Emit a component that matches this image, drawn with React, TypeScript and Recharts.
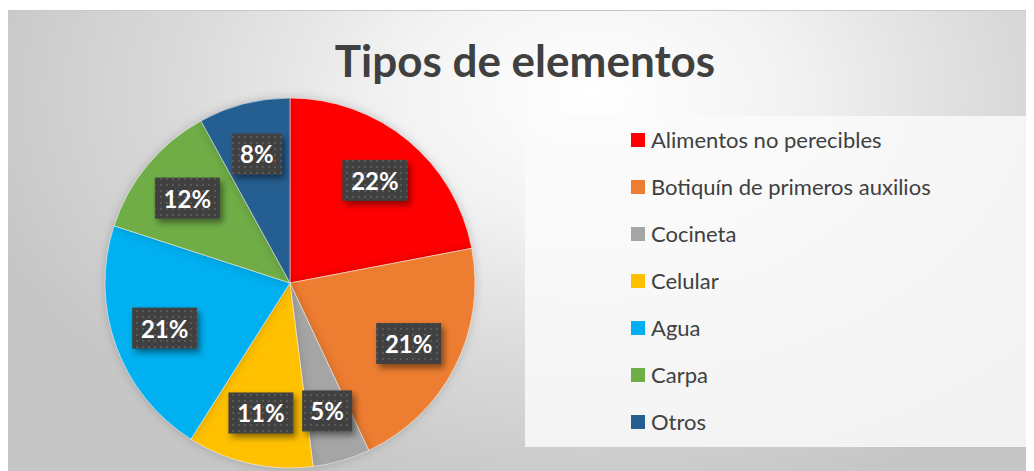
import React from 'react';
import { PieChart, Pie, Cell, Legend } from 'recharts';

const categories = [
  'Alimentos no perecibles',
  'Botiquín de primeros auxilios',
  'Cocineta',
  'Celular',
  'Agua',
  'Carpa',
  'Otros',
];
const values = [22, 21, 5, 11, 21, 12, 8];
const colors = ['#FF0000', '#ED7D31', '#A5A5A5', '#FFC000', '#00B0F0', '#70AD47', '#255E91'];

const data = categories.map((name, i) => ({ name, value: values[i] }));

const RAD = Math.PI / 180;

const renderLabel = (props: any) => {
  const { cx, cy, midAngle, outerRadius, percent } = props;
  const r = outerRadius * 0.72;
  const x = cx + r * Math.cos(-midAngle * RAD);
  const y = cy + r * Math.sin(-midAngle * RAD);
  const text = `${Math.round(percent * 100)}%`;
  const w = text.length * 15 + 20;
  const h = 41;
  return (
    <g>
      <rect x={x - w / 2} y={y - h / 2} width={w} height={h} fill="#404040" filter="url(#lblShadow)" />
      <rect x={x - w / 2} y={y - h / 2} width={w} height={h} fill="url(#dots)" />
      <text
        x={x}
        y={y}
        textAnchor="middle"
        dominantBaseline="central"
        fill="#ffffff"
        fontFamily="Lato, sans-serif"
        fontWeight={700}
        fontSize={24}
      >
        {text}
      </text>
    </g>
  );
};

const renderLegend = (props: any) => {
  const payload = [...(props.payload || [])].sort(
    (a: any, b: any) => categories.indexOf(a.value) - categories.indexOf(b.value)
  );
  return (
    <ul style={{ listStyle: 'none', margin: 0, padding: 0 }}>
      {payload.map((entry: any, i: number) => (
        <li
          key={i}
          style={{ height: 47, display: 'flex', alignItems: 'center', paddingLeft: 106 }}
        >
          <span
            style={{ width: 14, height: 14, background: entry.color, display: 'inline-block', marginRight: 6 }}
          />
          <span style={{ fontFamily: 'Lato, sans-serif', fontSize: 22, color: '#404040' }}>{entry.value}</span>
        </li>
      ))}
    </ul>
  );
};

export default function App() {
  return (
    <div style={{ position: 'relative', width: 1026, height: 463 }}>
      <style>{`.recharts-pie-sector path { filter: drop-shadow(0px 0px 5px rgba(0,0,0,0.18)); }`}</style>
      <svg width={0} height={0} style={{ position: 'absolute' }}>
        <defs>
          <pattern id="dots" width={6} height={6} patternUnits="userSpaceOnUse">
            <rect x={2} y={2} width={2} height={2} fill="#595959" />
          </pattern>
          <filter id="lblShadow" x="-30%" y="-30%" width="160%" height="170%">
            <feDropShadow dx={3} dy={4} stdDeviation={3} floodColor="#000" floodOpacity={0.45} />
          </filter>
        </defs>
      </svg>
      <div
        style={{
          position: 'absolute',
          left: 0,
          top: 2,
          width: 1026,
          height: 461,
          borderTop: '1px solid #c8c8c8',
          background:
            'radial-gradient(ellipse 62% 90% at 57% 18%, #ffffff 0%, #f3f3f3 30%, #dadada 65%, #c6c6c6 100%)',
        }}
      />
      <div
        style={{
          position: 'absolute',
          left: 0,
          top: 28,
          width: 1034,
          textAlign: 'center',
          fontFamily: 'Lato, sans-serif',
          fontWeight: 700,
          fontSize: 44,
          color: '#404040',
          lineHeight: '48px',
        }}
      >
        Tipos de elementos
      </div>
      <div style={{ position: 'absolute', left: 0, top: 0 }}>
        <PieChart width={1026} height={463} margin={{ top: 0, right: 0, bottom: 0, left: 0 }}>
          <Pie
            data={data}
            dataKey="value"
            nameKey="name"
            cx={282}
            cy={275}
            outerRadius={185}
            startAngle={90}
            endAngle={-270}
            stroke="rgba(255,255,255,0.5)"
            strokeWidth={1}
            label={renderLabel}
            labelLine={false}
            isAnimationActive={false}
          >
            {data.map((d, i) => (
              <Cell key={d.name} fill={colors[i]} />
            ))}
          </Pie>
          <Legend
            content={renderLegend}
            layout="vertical"
            align="right"
            verticalAlign="top"
            wrapperStyle={{
              left: 517,
              top: 108,
              width: 509,
              height: 331,
              background: 'rgba(250,250,250,0.85)',
            }}
          />
        </PieChart>
      </div>
    </div>
  );
}
